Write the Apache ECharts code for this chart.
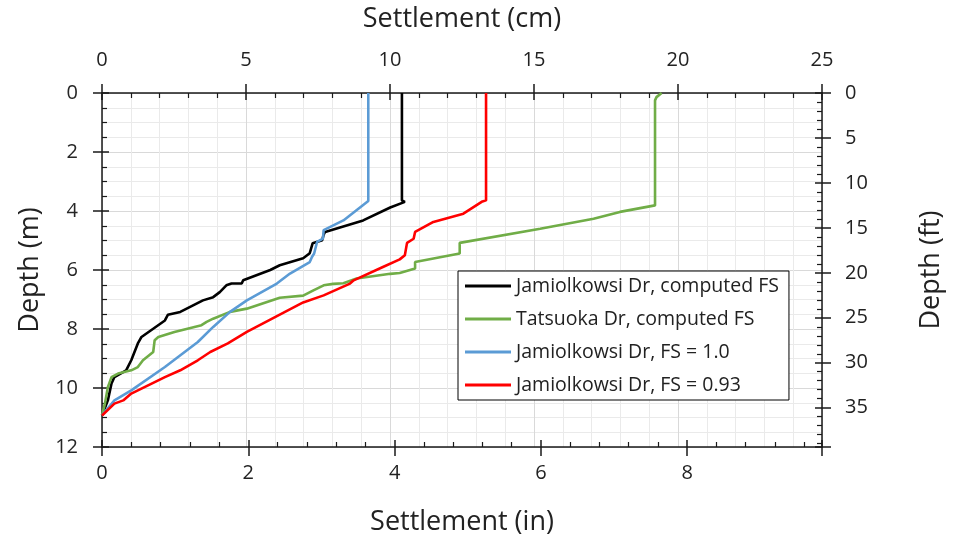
<!DOCTYPE html>
<html>
<head>
<meta charset="utf-8">
<script src="https://cdn.jsdelivr.net/npm/echarts@6/dist/echarts.min.js"></script>
<style>
  html, body { margin: 0; padding: 0; background: #fff; }
  #chart { width: 953px; height: 546px; }
</style>
</head>
<body>
<div id="chart"></div>
<script>
// Settlement (in) vs depth (m) profiles
const jamiolkowskiComputedFS = [
  [4.10, 0], [4.10, 3.64], [4.14, 3.69], [3.94, 3.88], [3.57, 4.32], [3.05, 4.71],
  [3.03, 4.80], [3.01, 4.99], [2.88, 5.09], [2.84, 5.43], [2.75, 5.60], [2.43, 5.84],
  [2.30, 6.00], [1.93, 6.35], [1.91, 6.46], [1.77, 6.46], [1.70, 6.52], [1.61, 6.75],
  [1.52, 6.92], [1.38, 7.03], [1.07, 7.42], [0.90, 7.52], [0.86, 7.71], [0.54, 8.27],
  [0.49, 8.49], [0.40, 9.06], [0.33, 9.40], [0.17, 9.63], [0.13, 9.85], [0.08, 10.42],
  [0, 10.93]
];
const tatsuokaComputedFS = [
  [7.65, 0], [7.58, 0.14], [7.56, 0.25], [7.56, 3.81], [7.08, 4.03], [6.72, 4.26],
  [5.99, 4.60], [4.89, 5.08], [4.89, 5.44], [4.28, 5.73], [4.28, 5.95], [4.07, 6.10],
  [3.94, 6.13], [3.48, 6.29], [3.30, 6.45], [3.16, 6.47], [3.03, 6.52], [2.89, 6.69],
  [2.75, 6.87], [2.43, 6.94], [1.98, 7.31], [1.75, 7.42], [1.52, 7.65], [1.43, 7.76],
  [1.36, 7.87], [0.99, 8.10], [0.77, 8.27], [0.72, 8.38], [0.70, 8.78], [0.56, 9.06],
  [0.49, 9.29], [0.40, 9.40], [0.22, 9.51], [0.13, 9.63], [0.08, 9.97], [0.04, 10.53],
  [0, 10.93]
];
const jamiolkowskiFS100 = [
  [3.64, 0], [3.64, 3.66], [3.30, 4.32], [3.03, 4.65], [3.02, 4.94], [2.94, 5.05],
  [2.90, 5.44], [2.87, 5.56], [2.84, 5.73], [2.57, 6.12], [2.39, 6.46], [1.98, 7.03],
  [1.75, 7.42], [1.52, 7.93], [1.31, 8.44], [0.86, 9.29], [0.40, 10.08], [0.17, 10.42],
  [0, 10.93]
];
const jamiolkowskiFS093 = [
  [5.25, 0], [5.25, 3.64], [5.19, 3.69], [4.94, 4.09], [4.53, 4.37], [4.28, 4.71],
  [4.26, 4.94], [4.17, 5.08], [4.14, 5.50], [4.07, 5.64], [3.84, 5.90], [3.44, 6.35],
  [3.39, 6.46], [3.03, 6.86], [2.75, 7.10], [1.98, 8.10], [1.72, 8.49], [1.48, 8.78],
  [1.31, 9.06], [1.07, 9.40], [0.86, 9.63], [0.40, 10.19], [0.29, 10.42], [0.17, 10.53],
  [0, 10.93]
];

const seriesNames = [
  'Jamiolkowsi Dr, computed FS',
  'Tatsuoka Dr, computed FS',
  'Jamiolkowsi Dr, FS = 1.0',
  'Jamiolkowsi Dr, FS = 0.93'
];
const seriesColors = ['#000000', '#70AD47', '#5B9BD5', '#FF0000'];
const seriesData = [jamiolkowskiComputedFS, tatsuokaComputedFS, jamiolkowskiFS100, jamiolkowskiFS093];

// Axis ranges: primary metric/imperial scales and their paired secondary scales
const cmMax = 25;
const inMax = cmMax / 2.54;
const mMax = 12;
const ftMax = mMax / 0.3048;

const FONT = 'Open Sans';
const TEXT = '#222222';
const AXIS = '#1a1a1a';
const TICK_FONT = 20;
const NAME_FONT = 27;

function onMultiple(step) {
  return function (v) {
    const r = Math.round(v / step) * step;
    return Math.abs(v - r) < 1e-6 ? String(r) : '';
  };
}

function tickLabel(margin, step, extra) {
  return Object.assign({
    show: true, color: TEXT, fontFamily: FONT, fontSize: TICK_FONT,
    margin: margin, formatter: onMultiple(step),
    showMinLabel: true, showMaxLabel: true
  }, extra || {});
}

// main axis: line, labels, name, outward part of the major ticks
function mainAxis(opt) {
  return Object.assign({
    type: 'value',
    axisLine: { show: true, onZero: false, lineStyle: { color: AXIS, width: 1.5 } },
    axisTick: { show: true, inside: false, length: 9, lineStyle: { color: AXIS, width: 1.5 } },
    minorTick: { show: false },
    splitLine: { show: false },
    minorSplitLine: { show: false },
    nameTextStyle: { color: TEXT, fontFamily: FONT, fontSize: NAME_FONT },
    nameLocation: 'middle'
  }, opt);
}

// companion axis: inward major ticks and minor ticks only
function innerAxis(opt, minorSplit) {
  return Object.assign({
    type: 'value',
    axisLine: { show: false, onZero: false },
    axisTick: { show: true, inside: true, length: 7, lineStyle: { color: AXIS, width: 1.5 } },
    minorTick: { show: true, splitNumber: minorSplit, length: 5, lineStyle: { color: AXIS, width: 1.2 } },
    splitLine: { show: false },
    minorSplitLine: { show: false },
    axisLabel: { show: false, color: '#0000ff' }
  }, opt);
}

const chart = echarts.init(document.getElementById('chart'), null, { renderer: 'canvas' });

chart.setOption({
  animation: false,
  backgroundColor: '#ffffff',
  grid: {
    left: 102, right: 131, top: 93, bottom: 99,
    containLabel: false,
    outerBoundsMode: 'none'
  },
  xAxis: [
    mainAxis({
      position: 'bottom', min: 0, max: inMax, interval: 2,
      name: 'Settlement (in)', nameGap: 62,
      axisLabel: tickLabel(16, 2)
    }),
    mainAxis({
      position: 'top', min: 0, max: cmMax, interval: 5,
      name: 'Settlement (cm)', nameGap: 60,
      axisLabel: tickLabel(23, 5),
      splitLine: { show: true, lineStyle: { color: '#d9d9d9', width: 1 } },
      minorTick: { show: false, splitNumber: 5 },
      minorSplitLine: { show: true, lineStyle: { color: '#eaeaea', width: 1 } }
    }),
    innerAxis({ position: 'bottom', min: 0, max: inMax, interval: 2 }, 5),
    innerAxis({ position: 'top', min: 0, max: cmMax, interval: 5 }, 5)
  ],
  yAxis: [
    mainAxis({
      position: 'left', min: 0, max: mMax, interval: 2, inverse: true,
      name: 'Depth (m)', nameGap: 58, nameRotate: 90,
      axisLabel: tickLabel(24, 2, { color: '#262626' }),
      splitLine: { show: true, lineStyle: { color: '#d9d9d9', width: 1 } },
      minorTick: { show: false, splitNumber: 4 },
      minorSplitLine: { show: true, lineStyle: { color: '#eaeaea', width: 1 } }
    }),
    mainAxis({
      position: 'right', min: 0, max: ftMax, interval: 5, inverse: true,
      name: 'Depth (ft)', nameGap: 96, nameRotate: 90,
      axisLabel: tickLabel(23, 5)
    }),
    innerAxis({ position: 'left', min: 0, max: mMax, interval: 2, inverse: true }, 4),
    innerAxis({ position: 'right', min: 0, max: ftMax, interval: 5, inverse: true }, 5)
  ],
  legend: {
    show: true,
    orient: 'vertical',
    left: 458,
    top: 271,
    padding: [5, 10, 5, 7],
    icon: 'rect',
    itemWidth: 46,
    itemHeight: 3,
    itemGap: 13,
    selectedMode: false,
    backgroundColor: '#ffffff',
    borderColor: '#000000',
    borderWidth: 1,
    textStyle: { color: TEXT, fontFamily: FONT, fontSize: 19.5 },
    data: seriesNames
  },
  series: seriesData.map(function (d, i) {
    return {
      name: seriesNames[i],
      type: 'line',
      xAxisIndex: 0,
      yAxisIndex: 0,
      data: d,
      showSymbol: false,
      symbol: 'none',
      smooth: false,
      clip: true,
      lineStyle: { color: seriesColors[i], width: 2.6 },
      itemStyle: { color: seriesColors[i] },
      z: 3 + i
    };
  })
});
</script>
</body>
</html>
